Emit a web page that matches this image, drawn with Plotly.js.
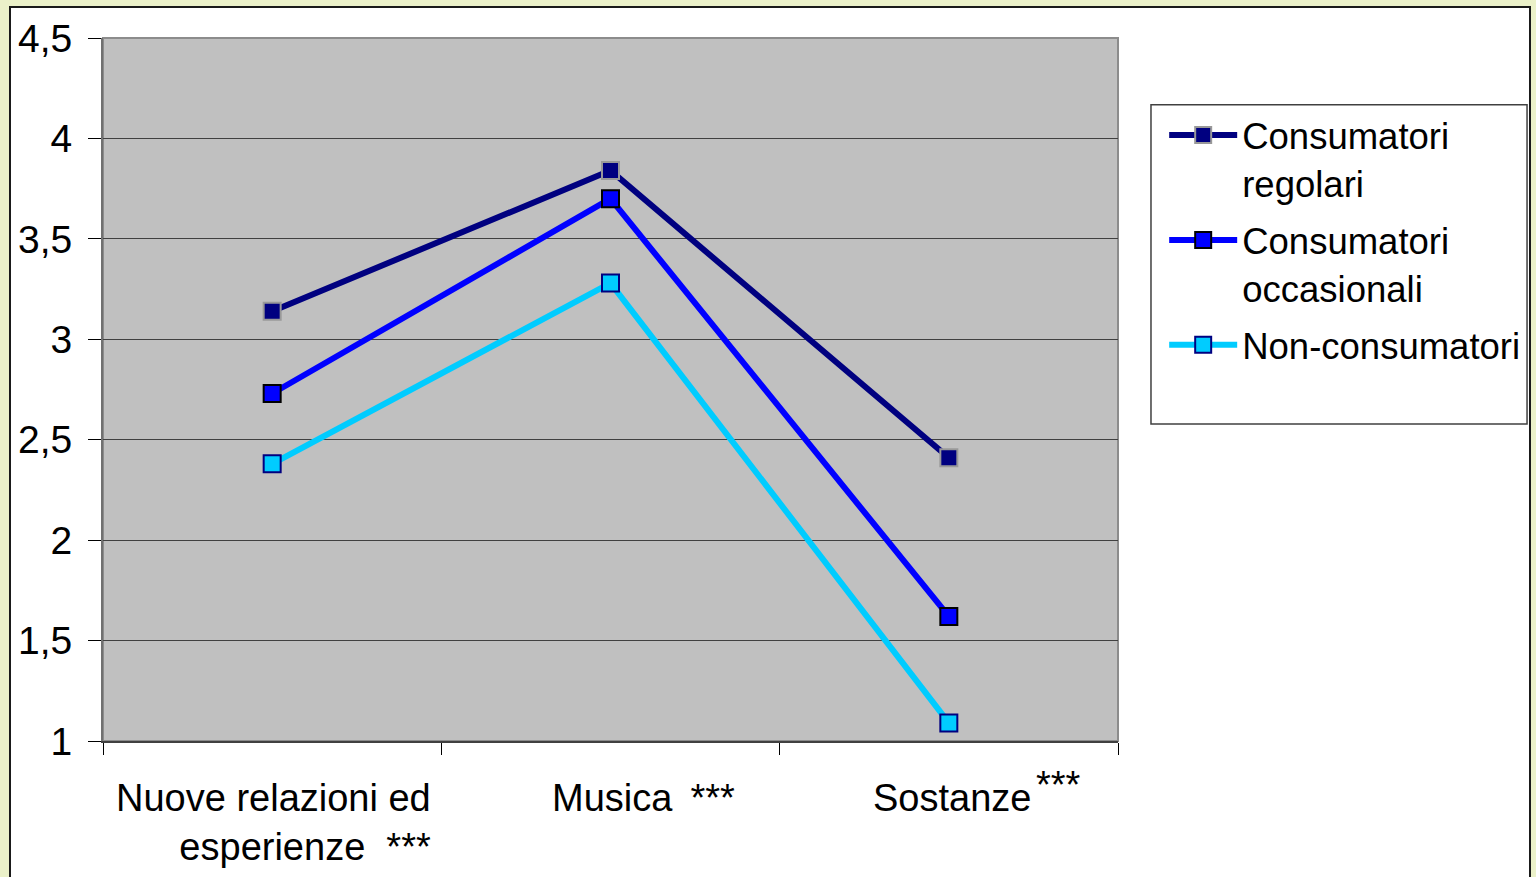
<!DOCTYPE html>
<html>
<head>
<meta charset="utf-8">
<script src="https://cdn.plot.ly/plotly-3.0.1.min.js"></script>
<style>
html,body{margin:0;padding:0;background:#ebf1c9;width:1536px;height:877px;overflow:hidden;}
#frame{position:absolute;left:9px;top:6px;width:1518px;height:875px;border:2px solid #1a1a1a;background:#fff;overflow:hidden;}
#chart{position:absolute;left:0;top:0;width:1580px;height:875px;}
</style>
</head>
<body>
<div id="frame"><div id="chart"></div></div>
<script>
// ---- data ----
const categories = ["Nuove relazioni ed esperienze", "Musica", "Sostanze"];
const categoryLabels = ["Nuove relazioni ed<br>esperienze\u00a0\u00a0***", "Musica\u2009 ***", "Sostanze"];
const sostanzeStars = "***";
const seriesNames = ["Consumatori<br>regolari", "Consumatori<br>occasionali", "Non-consumatori"];
const regolari = [3.14, 3.84, 2.41];
const occasionali = [2.73, 3.70, 1.62];
const nonConsumatori = [2.38, 3.28, 1.09];
const yTicks = [1, 1.5, 2, 2.5, 3, 3.5, 4, 4.5];

const FONT = "Liberation Sans, Arial, sans-serif";

const styles = [
  {line:"#000080", fill:"#000080", border:"#999999"},
  {line:"#0000ff", fill:"#0000ff", border:"#000000"},
  {line:"#00ccff", fill:"#00ccff", border:"#000080"}
];
const seriesValues = [regolari, occasionali, nonConsumatori];

const traces = seriesValues.map((vals, i) => ({
  type: "scatter",
  mode: "lines+markers",
  x: categories,
  y: vals,
  name: seriesNames[i],
  legendgroup: "g" + i,
  line: {color: styles[i].line, width: 6},
  marker: {symbol: "square", size: 17, color: styles[i].fill, line: {color: styles[i].border, width: 2}},
  cliponaxis: false
}));

const LBL = {family: FONT, size: 38, color: "#000"};
const annotations = [];
annotations.push({
  x: categories[0], xref: "x", y: 0, yref: "paper", yanchor: "top",
  xanchor: "right", align: "right", xshift: 161, yshift: -34,
  text: categoryLabels[0], showarrow: false, font: LBL
});
annotations.push({
  x: categories[1], xref: "x", y: 0, yref: "paper", yanchor: "top",
  xanchor: "center", xshift: 33, yshift: -34,
  text: categoryLabels[1], showarrow: false, font: LBL
});
annotations.push({
  x: categories[2], xref: "x", y: 0, yref: "paper", yanchor: "top",
  xanchor: "center", xshift: 3, yshift: -34,
  text: categoryLabels[2], showarrow: false, font: LBL
});
annotations.push({
  x: categories[2], xref: "x", y: 0, yref: "paper", yanchor: "top",
  xanchor: "left", xshift: 85, yshift: -21,
  text: sostanzeStars, showarrow: false, font: LBL
});

const layout = {
  width: 1580, height: 875,
  margin: {l: 92, r: 473, t: 30, b: 142},
  paper_bgcolor: "#ffffff",
  plot_bgcolor: "#c0c0c0",
  separators: ",.",
  font: {family: FONT, size: 38, color: "#000"},
  showlegend: true,
  xaxis: {
    type: "category",
    range: [-0.5, 2.5],
    showticklabels: false,
    tickson: "boundaries",
    ticks: "outside", ticklen: 12, tickcolor: "#000", tickwidth: 1,
    showgrid: false, zeroline: false,
    showline: true, linecolor: "#404040", linewidth: 2
  },
  yaxis: {
    range: [1, 4.5],
    tickvals: yTicks,
    ticks: "outside", ticklen: 13, tickcolor: "#000", tickwidth: 1,
    ticklabelstandoff: 8,
    tickfont: {family: FONT, size: 39, color: "#000"},
    showgrid: true, gridcolor: "#404040", gridwidth: 1,
    zeroline: false,
    showline: true, linecolor: "#707070", linewidth: 2
  },
  legend: {
    x: 1.0455, xanchor: "left", y: 0.905, yanchor: "top",
    bgcolor: "rgba(0,0,0,0)", borderwidth: 0,
    font: {family: FONT, size: 36.5, color: "#000"},
    valign: "top",
    itemwidth: 68,
    tracegroupgap: 7
  },
  shapes: [
    {type: "rect", xref: "paper", yref: "paper", x0: 0, x1: 1, y0: 0, y1: 1,
     line: {color: "#8c8c8c", width: 2}, layer: "below"},
    {type: "rect", xref: "paper", yref: "paper", x0: 1.0325, x1: 1.403, y0: 0.451, y1: 0.905,
     line: {color: "#404040", width: 1.5}, fillcolor: "rgba(0,0,0,0)"}
  ],
  annotations: annotations
};

Plotly.newPlot("chart", traces, layout, {displayModeBar: false, staticPlot: true});
</script>
</body>
</html>
